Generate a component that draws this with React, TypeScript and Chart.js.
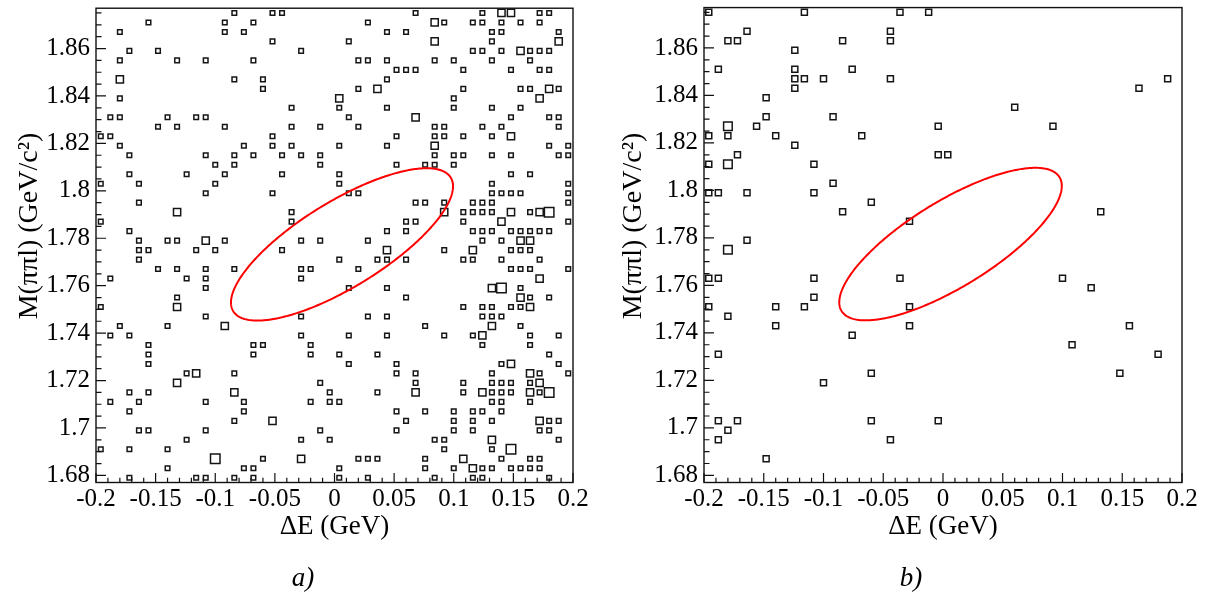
import React, { useEffect, useRef } from "react";
import { Chart, registerables } from "chart.js";

Chart.register(...registerables);

// ---- histogram definition (50 x 50 bins) ----
const DE_MIN = -0.2;
const DE_MAX = 0.2;
const M_MIN = 1.677;
const M_MAX = 1.877;
const N_BINS = 50;

const xTickValues = [-0.2, -0.15, -0.1, -0.05, 0, 0.05, 0.1, 0.15, 0.2];
const yTickValues = [1.68, 1.7, 1.72, 1.74, 1.76, 1.78, 1.8, 1.82, 1.84, 1.86];
const xMinorStep = 0.01;
const yMinorStep = 0.005;

const xTitle = "ΔE (GeV)";
const yTitle = "M(ππl) (GeV/c²)";

// Panel a: occupied ΔE bins for each M bin row (row 0 = highest mass bin)
const panelARows: number[][] = [
  [14, 18, 19, 33, 40, 42, 43, 46, 47],
  [5, 13, 16, 28, 35, 36, 39, 40, 42, 44, 46],
  [2, 13, 15, 30, 32, 41, 42, 48],
  [18, 26, 35, 41, 48],
  [3, 6, 21, 39, 40, 42, 44, 45, 46, 47],
  [2, 8, 11, 16, 27, 28, 30, 35, 37, 41, 45],
  [31, 32, 33, 38, 43, 46, 47],
  [2, 14, 17, 30],
  [17, 27, 29, 38, 44, 45, 47, 48],
  [2, 25, 37, 46],
  [20, 25, 30, 37, 41, 44],
  [1, 2, 7, 10, 11, 26, 33, 43, 47, 48],
  [6, 8, 13, 20, 23, 27, 35, 36, 40, 42, 48],
  [0, 1, 18, 31, 35, 36, 38, 41, 43],
  [2, 15, 18, 20, 25, 30, 35, 47, 49],
  [3, 11, 14, 16, 19, 21, 23, 35, 37, 38, 41, 43, 48, 49],
  [12, 14, 23, 31, 34, 35, 37],
  [3, 9, 13, 19, 25, 43, 45],
  [0, 4, 12, 25, 41, 49],
  [11, 18, 26, 27, 41, 42, 43, 44, 49],
  [4, 33, 34, 36, 39, 40, 41, 49],
  [8, 20, 36, 38, 39, 40, 41, 43, 45, 46, 47],
  [0, 20, 32, 33, 38, 42, 49],
  [3, 30, 32, 39, 40, 41, 43, 44, 45, 46, 47],
  [4, 7, 8, 11, 13, 21, 23, 28, 40, 42, 44, 45],
  [4, 5, 10, 12, 19, 30, 36, 39, 43, 44, 45],
  [4, 25, 29, 30, 32, 38, 39, 42, 46],
  [6, 8, 11, 14, 21, 22, 27, 43, 44, 45, 49],
  [1, 9, 11, 21, 46],
  [11, 26, 30, 41, 42, 44],
  [8, 32, 44, 45, 47],
  [0, 8, 38, 40, 41, 43, 44, 45],
  [11, 21, 28, 30, 40, 41, 42],
  [2, 7, 13, 34, 41, 44],
  [1, 3, 21, 26, 30, 36, 39, 40, 45, 48],
  [5, 16, 17, 22, 40, 45],
  [5, 16, 22, 25, 29, 47],
  [5, 26, 31, 42, 43, 48],
  [9, 10, 14, 31, 33, 41, 45, 46, 49],
  [8, 23, 33, 38, 41, 42, 43, 45, 46],
  [3, 5, 14, 24, 29, 33, 38, 40, 41, 42, 43, 45, 46, 47],
  [1, 4, 11, 15, 22, 24, 25, 41, 42, 45],
  [3, 15, 31, 34, 37, 39, 40, 42],
  [14, 18, 32, 37, 39, 41, 46, 47, 48],
  [4, 5, 11, 23, 31, 37, 39, 46, 47],
  [9, 21, 24, 35, 36, 41, 48],
  [0, 3, 7, 36, 41, 43],
  [12, 17, 21, 27, 28, 29, 34, 38, 42, 45, 46],
  [7, 15, 16, 25, 34, 37, 39, 40, 41, 43, 44, 45, 46],
  [3, 10, 11, 14, 16, 25, 28, 35, 39, 40, 47],
];

// Panel a: bins with more than one entry [row, ΔE bin, entries]
const panelAMulti: number[][] = [
  [0, 42, 2], [0, 43, 2], [1, 35, 2], [3, 35, 2], [3, 48, 2], [4, 44, 2],
  [7, 2, 2], [8, 29, 2], [8, 47, 2], [9, 25, 2], [9, 46, 2], [11, 33, 2],
  [13, 43, 2], [14, 35, 2], [21, 8, 2], [21, 36, 2], [21, 43, 2], [21, 46, 2],
  [21, 47, 3], [22, 42, 2], [24, 11, 2], [24, 44, 2], [24, 45, 2], [25, 30, 2],
  [25, 39, 2], [28, 46, 2], [29, 41, 2], [29, 42, 3], [30, 44, 2], [31, 8, 2],
  [31, 45, 2], [33, 13, 2], [33, 41, 2], [34, 40, 2], [37, 43, 2], [38, 10, 2],
  [38, 45, 2], [39, 8, 2], [39, 46, 2], [40, 14, 2], [40, 33, 2], [40, 40, 2],
  [40, 45, 2], [40, 47, 3], [43, 18, 2], [43, 46, 2], [45, 41, 2], [46, 43, 3],
  [47, 12, 3], [47, 21, 2], [47, 38, 2], [48, 39, 2],
];

// Panel b
const panelBRows: number[][] = [
  [0, 10, 20, 23], [], [4, 19], [2, 3, 14, 19], [9], [], [1, 9, 15],
  [9, 10, 12, 19, 48], [9, 45], [6], [32], [6, 13], [2, 5, 24, 36],
  [0, 2, 7, 16], [9], [3, 24, 25], [0, 2, 11], [], [13], [0, 1, 4, 11],
  [17], [14, 41], [21], [], [4], [2], [], [], [0, 1, 11, 20, 37], [40],
  [11], [0, 7, 10, 21], [2], [7, 21, 44], [15], [38], [1, 47], [], [17, 43],
  [12], [], [], [], [1, 3, 17, 24], [2], [1, 19], [], [6], [], [],
];
const panelBMulti: number[][] = [[12, 2, 2], [16, 2, 2], [25, 2, 2]];

// signal ellipse (ΔE, M) parametrisation
const ellipseCenterDE = 0.0063;
const ellipseCenterM = 1.7774;
const ellipseDEAmp = 0.0931;
const ellipseMCosAmp = 0.02448;
const ellipseMSinAmp = 0.0208;

const FONT = "'Liberation Serif', 'Times New Roman', serif";

type Pt = { x: number; y: number; n: number };

function buildPoints(rows: number[][], multi: number[][]): Pt[] {
  const bw = (DE_MAX - DE_MIN) / N_BINS;
  const bh = (M_MAX - M_MIN) / N_BINS;
  const pts: Pt[] = [];
  rows.forEach((cols, r) => {
    cols.forEach((c) => {
      const m = multi.find((e) => e[0] === r && e[1] === c);
      pts.push({ x: DE_MIN + (c + 0.5) * bw, y: M_MAX - (r + 0.5) * bh, n: m ? m[2] : 1 });
    });
  });
  return pts;
}

const fmt = (v: number | string) => String(parseFloat(Number(v).toFixed(3)));

const CANVAS_H = 601;
const PLOT_TOP = 4.5;
const PLOT_BOTTOM = 482.5;

const framePlugin = {
  id: "rootFrame",
  beforeDatasetsDraw(chart: any) {
    const { ctx, chartArea: a, scales } = chart;
    const xs = scales.x;
    const ys = scales.y;
    ctx.save();
    ctx.strokeStyle = "#111";
    ctx.lineWidth = 1.4;
    ctx.strokeRect(a.left, a.top, a.right - a.left, a.bottom - a.top);
    ctx.lineWidth = 1.2;
    ctx.beginPath();
    const nx = Math.round((DE_MAX - DE_MIN) / xMinorStep);
    for (let i = 0; i <= nx; i++) {
      const v = DE_MIN + i * xMinorStep;
      const major = xTickValues.some((t) => Math.abs(t - v) < 1e-6);
      const px = xs.getPixelForValue(v);
      ctx.moveTo(px, a.bottom);
      ctx.lineTo(px, a.bottom - (major ? 9.5 : 4.7));
    }
    const y0 = Math.ceil(M_MIN / yMinorStep - 1e-6) * yMinorStep;
    for (let v = y0; v <= M_MAX + 1e-9; v += yMinorStep) {
      const major = yTickValues.some((t) => Math.abs(t - v) < 1e-6);
      const py = ys.getPixelForValue(v);
      ctx.moveTo(a.left, py);
      ctx.lineTo(a.left + (major ? 10 : 5.5), py);
    }
    ctx.stroke();
    ctx.restore();
  },
  afterDatasetsDraw(chart: any) {
    const { ctx, scales } = chart;
    ctx.save();
    ctx.strokeStyle = "#ff0000";
    ctx.lineWidth = 2;
    ctx.beginPath();
    for (let i = 0; i <= 360; i++) {
      const t = (i / 360) * 2 * Math.PI;
      const de = ellipseCenterDE + ellipseDEAmp * Math.cos(t);
      const m = ellipseCenterM + ellipseMCosAmp * Math.cos(t) + ellipseMSinAmp * Math.sin(t);
      const px = scales.x.getPixelForValue(de);
      const py = scales.y.getPixelForValue(m);
      if (i === 0) ctx.moveTo(px, py);
      else ctx.lineTo(px, py);
    }
    ctx.closePath();
    ctx.stroke();
    ctx.restore();
  },
  afterDraw(chart: any) {
    const { ctx } = chart;
    const o = chart.options.plugins.rootFrame || {};
    ctx.save();
    ctx.translate(o.titleX, o.titleY);
    ctx.rotate(-Math.PI / 2);
    ctx.font = `${o.titleSize}px ${FONT}`;
    ctx.fillStyle = "#000";
    ctx.textAlign = "center";
    ctx.textBaseline = "middle";
    ctx.fillText(yTitle, 0, 0);
    ctx.restore();
  },
};

type PanelProps = {
  rows: number[][];
  multi: number[][];
  sizes: number[];
  left: number;
  width: number;
  yAxisWidth: number;
  rightPad: number;
  yTitleX: number;
};

function Panel(p: PanelProps) {
  const ref = useRef<HTMLCanvasElement | null>(null);
  useEffect(() => {
    if (!ref.current) return;
    const pts = buildPoints(p.rows, p.multi);
    const chart = new Chart(ref.current, {
      type: "scatter",
      data: {
        datasets: [
          {
            data: pts as any,
            pointStyle: "rect",
            pointRadius: (c: any) => p.sizes[(c.raw?.n || 1) - 1] / Math.SQRT2,
            pointBorderColor: "#151515",
            pointBackgroundColor: "rgba(0,0,0,0)",
            pointBorderWidth: 1.5,
            showLine: false,
          } as any,
        ],
      },
      options: {
        responsive: false,
        animation: false,
        events: [],
        layout: { padding: { left: 0, right: p.rightPad, top: PLOT_TOP, bottom: 0 } },
        plugins: {
          legend: { display: false },
          tooltip: { enabled: false },
          rootFrame: { titleX: p.yTitleX, titleY: 226, titleSize: 28 },
        },
        scales: {
          x: {
            type: "linear",
            position: "bottom",
            min: DE_MIN,
            max: DE_MAX,
            afterBuildTicks: (s: any) => {
              s.ticks = xTickValues.map((v) => ({ value: v }));
            },
            afterFit: (s: any) => {
              s.height = CANVAS_H - PLOT_BOTTOM;
              s.paddingLeft = 0;
              s.paddingRight = 0;
            },
            grid: { display: false, drawTicks: false },
            border: { display: false },
            ticks: {
              color: "#000",
              font: { family: FONT, size: 25 },
              padding: 2,
              maxRotation: 0,
              autoSkip: false,
              callback: (v: any) => fmt(v),
            },
            title: {
              display: true,
              text: xTitle,
              color: "#000",
              font: { family: FONT, size: 27 },
              padding: { top: 0, bottom: 58 },
            },
          },
          y: {
            type: "linear",
            min: M_MIN,
            max: M_MAX,
            afterBuildTicks: (s: any) => {
              s.ticks = yTickValues.map((v) => ({ value: v }));
            },
            afterFit: (s: any) => {
              s.width = p.yAxisWidth;
              s.paddingTop = 0;
              s.paddingBottom = 0;
            },
            grid: { display: false, drawTicks: false },
            border: { display: false },
            ticks: {
              color: "#000",
              font: { family: FONT, size: 25 },
              padding: 6,
              autoSkip: false,
              callback: (v: any) => fmt(v),
            },
          },
        },
      } as any,
      plugins: [framePlugin],
    });
    return () => chart.destroy();
  }, []);
  return (
    <canvas
      ref={ref}
      width={p.width}
      height={CANVAS_H}
      style={{ position: "absolute", left: p.left, top: 0, width: p.width, height: CANVAS_H }}
    />
  );
}

const labelStyle = (cx: number): React.CSSProperties => ({
  position: "absolute",
  left: cx - 40,
  width: 80,
  top: 562,
  textAlign: "center",
  fontFamily: FONT,
  fontStyle: "italic",
  fontSize: 27,
  lineHeight: "30px",
  color: "#000",
});

export default function App() {
  return (
    <div style={{ position: "absolute", left: 0, top: 0, width: 1209, height: 601, background: "#fff" }}>
      <Panel
        rows={panelARows}
        multi={panelAMulti}
        sizes={[4.6, 7.2, 9.5]}
        left={0}
        width={604}
        yAxisWidth={96}
        rightPad={31}
        yTitleX={30}
      />
      <Panel
        rows={panelBRows}
        multi={panelBMulti}
        sizes={[6.0, 8.6]}
        left={604}
        width={605}
        yAxisWidth={100}
        rightPad={27}
        yTitleX={30}
      />
      <div style={labelStyle(303)}>a)</div>
      <div style={labelStyle(911)}>b)</div>
    </div>
  );
}
